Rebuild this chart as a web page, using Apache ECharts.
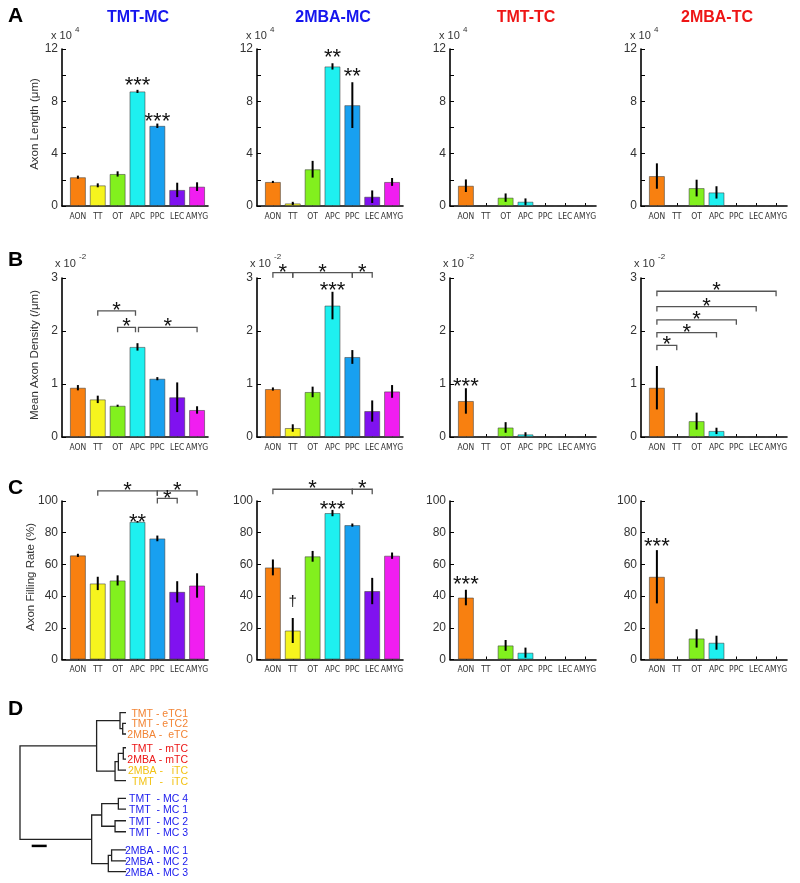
<!DOCTYPE html>
<html><head><meta charset="utf-8">
<script src="https://cdn.jsdelivr.net/npm/echarts@6/dist/echarts.min.js"></script>
<style>html,body{margin:0;padding:0;background:#fff}#c{width:800px;height:883px}</style>
</head><body><div id="c"></div>
<script>
// ---------------- DATA ----------------
const categories = ['AON','TT','OT','APC','PPC','LEC','AMYG'];
const panelTitles = ['TMT-MC','2MBA-MC','TMT-TC','2MBA-TC'];
const barColors = ['#F88010','#F6F41E','#82F01E','#1EF0F0','#18A0F0','#8012F0','#F01EF0'];

// Row A: Axon length (x10^4 um)
const lenTMTMC = [2.2,1.58,2.45,8.76,6.13,1.23,1.48];
const lenTMTMCErr = [0.12,0.15,0.2,0.12,0.17,0.55,0.33];
const len2MBAMC = [1.84,0.2,2.81,10.67,7.71,0.71,1.84];
const len2MBAMCErr = [0.08,0.12,0.64,0.24,1.75,0.48,0.3];
const lenTMTTC = [1.55,0,0.64,0.33,0,0,0];
const lenTMTTCErr = [0.48,0,0.32,0.25,0,0,0];
const len2MBATC = [2.29,0,1.37,1.04,0,0,0];
const len2MBATCErr = [0.97,0,0.64,0.47,0,0,0];

// Row B: Mean axon density (x10^-2 /um)
const denTMTMC = [0.93,0.71,0.59,1.70,1.10,0.75,0.51];
const denTMTMCErr = [0.05,0.07,0.02,0.07,0.03,0.28,0.07];
const den2MBAMC = [0.905,0.17,0.85,2.48,1.51,0.49,0.86];
const den2MBAMCErr = [0.03,0.07,0.1,0.26,0.13,0.2,0.12];
const denTMTTC = [0.68,0,0.18,0.05,0,0,0];
const denTMTTCErr = [0.24,0,0.1,0.04,0,0,0];
const den2MBATC = [0.93,0,0.30,0.115,0,0,0];
const den2MBATCErr = [0.41,0,0.16,0.06,0,0,0];

// Row C: Axon filling rate (%)
const fillTMTMC = [65.7,48.0,49.9,86.9,76.4,42.7,46.7];
const fillTMTMCErr = [1,4.2,3.2,0.5,1.8,6.7,7.7];
const fill2MBAMC = [58.1,18.3,65.1,92.4,84.8,43.2,65.5];
const fill2MBAMCErr = [5,7.9,3.4,2,1,8.3,2];
const fillTMTTC = [39.1,0,8.9,4.3,0,0,0];
const fillTMTTCErr = [4.9,0,3.4,3.2,0,0,0];
const fill2MBATC = [52.2,0,13.3,10.6,0,0,0];
const fill2MBATCErr = [16.8,0,5.8,4.4,0,0,0];

// significance marks: [category position, value, text]
const starsA = [[[4,9.6,'***'],[5,6.85,'***']], [[4,11.75,'**'],[5,10.35,'**']], [], []];
const starsB = [[], [[4,2.86,'***']], [[1,1.05,'***']], []];
const starsC = [[[4,90,'**']], [[4,98,'***'],[2,37,'\u2020']], [[1,51,'***']], [[1,75,'***']]];
// brackets: [from, to, level, text]
const bracketsA = [[],[],[],[]];
const bracketsB = [
  [[2,3.9,2.38,'*'],[3,3.9,2.07,'*'],[4.05,7,2.07,'*']],
  [[1,2,3.1,'*'],[2,5,3.1,'*'],[5,6,3.1,'*']],
  [],
  [[1,2,1.73,'*'],[1,4,1.97,'*'],[1,5,2.21,'*'],[1,6,2.46,'*'],[1,7,2.75,'*']]
];
const bracketsC = [
  [[2,5,106.4,'*'],[5,7,106.4,'*'],[5,6,101.6,'*']],
  [[1,5,107.4,'*'],[5,6,107.4,'*']],
  [], []
];

// Dendrogram
const leafLabels = ['TMT - eTC1','TMT - eTC2','2MBA -  eTC','TMT  - mTC','2MBA - mTC','2MBA -   iTC','TMT  -   iTC',
  'TMT  - MC 4','TMT  - MC 1','TMT  - MC 2','TMT  - MC 3','2MBA - MC 1','2MBA - MC 2','2MBA - MC 3'];
const leafGroup = ['eTC','eTC','eTC','mTC','mTC','iTC','iTC','MC','MC','MC','MC','MC','MC','MC'];
const leafPos = [0,1,2,3.29,4.35,5.38,6.38,8.04,9.04,10.14,11.17,12.88,13.91,14.92];
// merges: [childA, childB, height]  (new node ids start at 14)
const merges = [[1,2,0.22],[0,14,0.40],[3,4,0.18],[16,5,0.51],[17,6,0.73],[15,18,1.96],
  [7,8,0.51],[9,10,0.73],[20,21,1.62],[11,12,0.96],[23,13,1.18],[22,24,2.29],[19,25,7.07]];
const scaleBar = {from:5.29, length:1, pos:12.5};

// ---------------- LAYOUT / STYLE ----------------
const FONT = 'Liberation Sans, Arial, Helvetica, sans-serif';
const NARROW = 'Liberation Sans Narrow, Arial Narrow, DejaVu Sans Condensed, sans-serif';
const titleColors = ['#1515EE','#1515EE','#EE1515','#EE1515'];
const groupColors = {eTC:'#F28434', mTC:'#EC1515', iTC:'#F2C214', MC:'#1A1AEE'};
const colX = [62, 257, 450, 641];
const gridW = 146;
const rowTop = [49, 278, 501];
const rowH = [157, 159, 158.5];

const rows = [
  {vals:[lenTMTMC,len2MBAMC,lenTMTTC,len2MBATC], errs:[lenTMTMCErr,len2MBAMCErr,lenTMTTCErr,len2MBATCErr],
   max:12, interval:2, labelEvery:4, stars:starsA, brackets:bracketsA},
  {vals:[denTMTMC,den2MBAMC,denTMTTC,den2MBATC], errs:[denTMTMCErr,den2MBAMCErr,denTMTTCErr,den2MBATCErr],
   max:3, interval:1, labelEvery:1, stars:starsB, brackets:bracketsB},
  {vals:[fillTMTMC,fill2MBAMC,fillTMTTC,fill2MBATC], errs:[fillTMTMCErr,fill2MBAMCErr,fillTMTTCErr,fill2MBATCErr],
   max:100, interval:20, labelEvery:20, stars:starsC, brackets:bracketsC}
];

const STAR_SIZE = 22, STAR_OFF = 6;
function starEl(x, y, text){
  return {type:'text', x:x, y:y + (text === '\u2020' ? 1 : STAR_OFF),
    style:{text:text, fontSize: text === '\u2020' ? 15 : STAR_SIZE, fontFamily:FONT, fill:'#111', align:'center', verticalAlign:'middle'}};
}

const grids = [], xAxes = [], yAxes = [], series = [];
let gi = 0;
rows.forEach((row, r) => {
  for (let c = 0; c < 4; c++) {
    grids.push({left:colX[c], top:rowTop[r], width:gridW, height:rowH[r]});
    xAxes.push({gridIndex:gi, type:'value', min:0.2, max:7.55,
      axisLine:{show:true, onZero:false, lineStyle:{color:'#000', width:1.6}},
      axisTick:{show:true, inside:true, length:3, customValues:[1,2,3,4,5,6,7], lineStyle:{color:'#000'}},
      axisLabel:{show:true, customValues:[1,2,3,4,5,6,7], formatter:v => categories[Math.round(v)-1] || '',
        fontSize:8.5, fontFamily:NARROW, color:'#333', margin:6, hideOverlap:false, showMinLabel:true, showMaxLabel:true},
      splitLine:{show:false}});
    const le = row.labelEvery;
    yAxes.push({gridIndex:gi, type:'value', min:0, max:row.max, interval:row.interval,
      axisLine:{show:true, lineStyle:{color:'#000', width:1.6}},
      axisTick:{show:true, inside:true, length:4, lineStyle:{color:'#000'}},
      axisLabel:{fontSize:12, fontFamily:FONT, color:'#333', margin:4, showMinLabel:true, showMaxLabel:true,
        formatter:v => (Math.abs(v/le - Math.round(v/le)) < 1e-6) ? String(v) : ''},
      splitLine:{show:false}});
    const vals = row.vals[c], errs = row.errs[c];
    series.push({type:'bar', xAxisIndex:gi, yAxisIndex:gi, barWidth:16, silent:true, animation:false,
      data: vals.map((v,i) => ({value:[i+1, v], itemStyle:{color:barColors[i]}})),
      itemStyle:{borderColor:'rgba(60,60,60,0.55)', borderWidth:1}});
    series.push({type:'custom', xAxisIndex:gi, yAxisIndex:gi, silent:true, animation:false, z:5,
      data: vals.map((v,i) => [i+1, v, errs[i]]),
      renderItem:(p, api) => {
        const x = api.value(0), v = api.value(1), e = api.value(2);
        if (!(e > 0)) return null;
        const a = api.coord([x, v-e]), b = api.coord([x, v+e]);
        return {type:'line', shape:{x1:a[0], y1:a[1], x2:b[0], y2:b[1]}, style:{stroke:'#000', lineWidth:2}};
      }});
    const st = row.stars[c];
    if (st.length) series.push({type:'custom', xAxisIndex:gi, yAxisIndex:gi, silent:true, animation:false, z:6, clip:false,
      data: st.map(s => [s[0], s[1]]),
      renderItem:(p, api) => {
        const pt = api.coord([api.value(0), api.value(1)]);
        return starEl(pt[0], pt[1], st[p.dataIndex][2]);
      }});
    const br = row.brackets[c];
    if (br.length) series.push({type:'custom', xAxisIndex:gi, yAxisIndex:gi, silent:true, animation:false, z:6, clip:false,
      data: br.map(b => [b[0], b[1], b[2]]),
      renderItem:(p, api) => {
        const a = api.coord([api.value(0), api.value(2)]), b = api.coord([api.value(1), api.value(2)]);
        return {type:'group', children:[
          {type:'polyline', shape:{points:[[a[0],a[1]+5],[a[0],a[1]],[b[0],b[1]],[b[0],b[1]+5]]},
            style:{stroke:'#555', lineWidth:1.3, fill:null}},
          starEl((a[0]+b[0])/2, a[1]-6, br[p.dataIndex][3])
        ]};
      }});
    gi++;
  }
});

// Dendrogram grid
grids.push({left:20, top:712.7, width:106, height:159});
xAxes.push({gridIndex:gi, type:'value', inverse:true, min:0, max:7.07, show:false});
yAxes.push({gridIndex:gi, type:'value', inverse:true, min:0, max:14.92, show:false});
const nodeY = leafPos.slice(), nodeH = leafPos.map(() => 0);
const segs = [];
merges.forEach(m => {
  const [a, b, h] = m;
  segs.push([nodeH[a], nodeY[a], h, nodeY[b], nodeH[b]]);
  nodeY.push((nodeY[a] + nodeY[b]) / 2);
  nodeH.push(h);
});
series.push({type:'custom', xAxisIndex:gi, yAxisIndex:gi, silent:true, animation:false, clip:false,
  data: segs,
  renderItem:(p, api) => {
    const p1 = api.coord([api.value(0), api.value(1)]);
    const p2 = api.coord([api.value(2), api.value(1)]);
    const p3 = api.coord([api.value(2), api.value(3)]);
    const p4 = api.coord([api.value(4), api.value(3)]);
    return {type:'polyline', shape:{points:[p1,p2,p3,p4]}, style:{stroke:'#222', lineWidth:1.3, fill:null}};
  }});
series.push({type:'custom', xAxisIndex:gi, yAxisIndex:gi, silent:true, animation:false, clip:false,
  data: leafPos.map(y => [0, y]),
  renderItem:(p, api) => {
    const pt = api.coord([api.value(0), api.value(1)]);
    return {type:'text', x:pt[0]+62, y:pt[1]+1,
      style:{text:leafLabels[p.dataIndex], fontSize:10.5, fontFamily:FONT, fill:groupColors[leafGroup[p.dataIndex]],
        align:'right', verticalAlign:'middle'}};
  }});
series.push({type:'custom', xAxisIndex:gi, yAxisIndex:gi, silent:true, animation:false, clip:false,
  data: [[scaleBar.from, scaleBar.from + scaleBar.length, scaleBar.pos]],
  renderItem:(p, api) => {
    const a = api.coord([api.value(0), api.value(2)]), b = api.coord([api.value(1), api.value(2)]);
    return {type:'line', shape:{x1:a[0], y1:a[1], x2:b[0], y2:b[1]}, style:{stroke:'#000', lineWidth:2.5}};
  }});

// Texts
const graphic = [];
['A','B','C','D'].forEach((L, i) => {
  const ys = [16, 260, 488, 709];
  graphic.push({type:'text', x:8, y:ys[i], style:{text:L, fontSize:21, fontWeight:'bold', fontFamily:FONT, fill:'#000', verticalAlign:'middle'}});
});
panelTitles.forEach((t, c) => {
  graphic.push({type:'text', x:colX[c] + 76, y:18, style:{text:t, fontSize:16, fontWeight:'bold', fontFamily:FONT,
    fill:titleColors[c], align:'center', verticalAlign:'middle'}});
});
for (let c = 0; c < 4; c++) {
  graphic.push({type:'text', x:colX[c]-11, y:36, style:{text:'x 10', fontSize:11, fontFamily:FONT, fill:'#333', verticalAlign:'middle'}});
  graphic.push({type:'text', x:colX[c]+13, y:30, style:{text:'4', fontSize:8, fontFamily:FONT, fill:'#333', verticalAlign:'middle'}});
  graphic.push({type:'text', x:colX[c]-7, y:264, style:{text:'x 10', fontSize:11, fontFamily:FONT, fill:'#333', verticalAlign:'middle'}});
  graphic.push({type:'text', x:colX[c]+17, y:257, style:{text:'-2', fontSize:8, fontFamily:FONT, fill:'#333', verticalAlign:'middle'}});
}
[['Axon Length (\u03bcm)',35,124],['Mean Axon Density (/\u03bcm)',35,355],['Axon Filling Rate (%)',31,577]].forEach(t => {
  graphic.push({type:'text', x:t[1], y:t[2], rotation:Math.PI/2,
    style:{text:t[0], fontSize:11.5, fontFamily:FONT, fill:'#333', align:'center', verticalAlign:'middle'}});
});

const chart = echarts.init(document.getElementById('c'), null, {renderer:'canvas'});
chart.setOption({animation:false, backgroundColor:'#fff', grid:grids, xAxis:xAxes, yAxis:yAxes, series:series, graphic:graphic});
</script>
</body></html>
